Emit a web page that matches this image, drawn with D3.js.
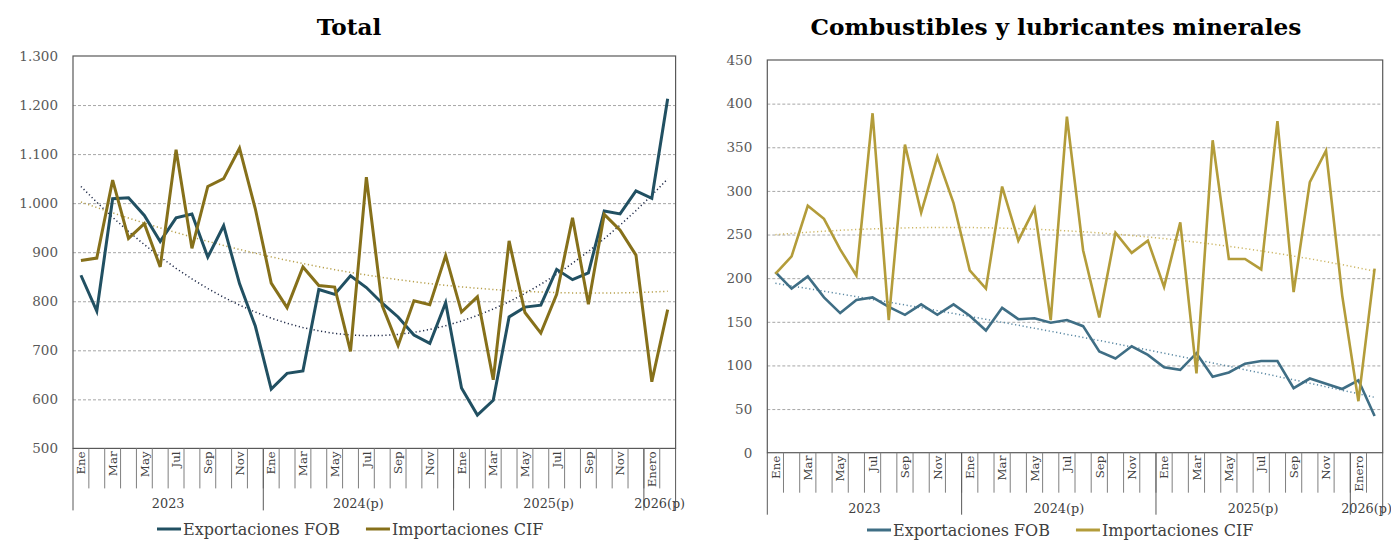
<!DOCTYPE html>
<html>
<head>
<meta charset="utf-8">
<script src="https://cdn.jsdelivr.net/npm/d3@7"></script>
<style>
  body { margin: 0; background: #fff; }
  svg { display: block; font-family: "DejaVu Serif", serif; }
</style>
</head>
<body>
<div id="chart"></div>
<script>
// Categories: monthly, 2023 to Feb 2026
const monthLabels = [
  "Ene","Feb","Mar","Abr","May","Jun","Jul","Ago","Sep","Oct","Nov","Dic",
  "Ene","Feb","Mar","Abr","May","Jun","Jul","Ago","Sep","Oct","Nov","Dic",
  "Ene","Feb","Mar","Abr","May","Jun","Jul","Ago","Sep","Oct","Nov","Dic",
  "Enero","Febrero"
];
const yearLabels = ["2023", "2024(p)", "2025(p)", "2026(p)"];
const yearMonths = [12, 12, 12, 2];

// Total (millones USD)
const totalExport = [
  853, 780, 1009, 1011, 975, 922, 970, 978, 890, 954, 836, 749,
  621, 653, 658, 824, 814, 852, 828, 796, 768, 731, 714, 797,
  623, 568, 598, 768, 788, 792, 865, 844, 858, 984, 978, 1025,
  1010, 1213
];
const totalImport = [
  883, 888, 1047, 928, 958, 870, 1109, 908, 1034, 1050, 1112, 988,
  837, 787, 870, 832, 829, 698, 1053, 791, 710, 801, 793, 893,
  778, 809, 640, 923, 777, 735, 814, 970, 794, 977, 945, 894,
  636, 783
];

// Combustibles y lubricantes minerales
const combExport = [
  207, 188, 202, 178, 160, 175, 178, 167, 158, 170, 158, 170,
  157, 140, 166, 153, 154, 149, 152, 145, 116, 108, 122, 112,
  98, 95, 114, 87, 92, 102, 105, 105, 74, 85, 79, 73,
  83, 42
];
const combImport = [
  205, 225, 283, 268, 233, 203, 389, 152, 353, 275, 339, 286,
  209, 188, 305, 243, 280, 152, 385, 232, 155, 252, 229, 243,
  190, 264, 91, 358, 222, 222, 210, 380, 184, 310, 346, 180,
  59, 211
];

const totalTicks = [500, 600, 700, 800, 900, 1000, 1100, 1200, 1300];
const combTicks = [0, 50, 100, 150, 200, 250, 300, 350, 400, 450];

const esFormat = d3.formatLocale({ decimal: ",", thousands: ".", grouping: [3], currency: ["", ""] }).format(",");

// least squares polynomial (order 2) like the Excel trendline
function polyTrend(values) {
  const n = values.length;
  const xs = values.map((v, i) => i + 1);
  const s = k => d3.sum(xs, x => Math.pow(x, k));
  const t = k => d3.sum(values, (v, i) => v * Math.pow(xs[i], k));
  const A = [[n, s(1), s(2)], [s(1), s(2), s(3)], [s(2), s(3), s(4)]];
  const b = [t(0), t(1), t(2)];
  // gaussian elimination
  for (let c = 0; c < 3; c++) {
    for (let r = c + 1; r < 3; r++) {
      const f = A[r][c] / A[c][c];
      for (let k = c; k < 3; k++) A[r][k] -= f * A[c][k];
      b[r] -= f * b[c];
    }
  }
  const coef = [0, 0, 0];
  for (let r = 2; r >= 0; r--) {
    let acc = b[r];
    for (let k = r + 1; k < 3; k++) acc -= A[r][k] * coef[k];
    coef[r] = acc / A[r][r];
  }
  return xs.map(x => coef[0] + coef[1] * x + coef[2] * x * x);
}

const width = 1391, height = 540;
const svg = d3.select("#chart").append("svg")
  .attr("width", width)
  .attr("height", height);

function drawPanel(cfg) {
  const g = svg.append("g");
  const { left, right, top, bottom } = cfg.box;

  const x = d3.scaleBand()
    .domain(d3.range(monthLabels.length))
    .range([left, right]);
  const y = d3.scaleLinear()
    .domain(d3.extent(cfg.ticks))
    .range([bottom, top]);

  // title
  g.append("text")
    .attr("x", cfg.titleX)
    .attr("y", 35)
    .attr("text-anchor", "middle")
    .attr("font-size", 23.2)
    .attr("font-weight", "bold")
    .attr("fill", "#000")
    .text(cfg.title);

  // gridlines
  g.append("g")
    .attr("transform", `translate(${left},0)`)
    .call(d3.axisLeft(y).tickValues(cfg.ticks.slice(1, -1)).tickSize(-(right - left)).tickFormat(""))
    .call(a => a.select(".domain").remove())
    .call(a => a.selectAll("line")
      .attr("stroke", "#a6a6a6")
      .attr("stroke-dasharray", "3,2"));

  // y labels
  g.append("g")
    .attr("transform", `translate(${left},0)`)
    .call(d3.axisLeft(y).tickValues(cfg.ticks).tickSize(0).tickPadding(15).tickFormat(cfg.format))
    .call(a => a.select(".domain").remove())
    .call(a => a.selectAll("text")
      .attr("font-family", "DejaVu Serif")
      .attr("font-size", 13.5)
      .attr("fill", "#595959"));

  // plot frame
  g.append("rect")
    .attr("x", left)
    .attr("y", top)
    .attr("width", right - left)
    .attr("height", bottom - top)
    .attr("fill", "none")
    .attr("stroke", "#595959")
    .attr("stroke-width", 1.2);

  // category axis: month separators
  g.selectAll(".month-tick")
    .data(d3.range(1, monthLabels.length))
    .enter()
    .append("line")
    .attr("class", "month-tick")
    .attr("x1", d => x(d))
    .attr("x2", d => x(d))
    .attr("y1", bottom)
    .attr("y2", bottom + 40)
    .attr("stroke", "#7f7f7f")
    .attr("stroke-width", 1);

  // month labels (every other one shown)
  g.selectAll(".month-label")
    .data(monthLabels.map((m, i) => ({ m, i })).filter(d => d.i % 2 === 0))
    .enter()
    .append("text")
    .attr("class", "month-label")
    .attr("transform", d => `translate(${x(d.i) + x.bandwidth() / 2},${bottom + 3}) rotate(-90)`)
    .attr("dy", "0.36em")
    .attr("text-anchor", "end")
    .attr("font-size", 11.8)
    .attr("fill", "#404040")
    .text(d => d.m);

  // year groups
  const starts = yearMonths.map((n, i) => d3.sum(yearMonths.slice(0, i)));
  const bounds = starts.map(s => x(s)).concat([right]);
  g.selectAll(".year-line")
    .data(bounds)
    .enter()
    .append("line")
    .attr("class", "year-line")
    .attr("x1", d => d)
    .attr("x2", d => d)
    .attr("y1", bottom)
    .attr("y2", bottom + 62)
    .attr("stroke", "#595959")
    .attr("stroke-width", 1);

  g.selectAll(".year-label")
    .data(yearLabels)
    .enter()
    .append("text")
    .attr("class", "year-label")
    .attr("x", (d, i) => (bounds[i] + bounds[i + 1]) / 2)
    .attr("y", bottom + 60)
    .attr("text-anchor", "middle")
    .attr("font-size", 12.8)
    .attr("fill", "#404040")
    .text(d => d);

  const line = d3.line()
    .x((d, i) => x(i) + x.bandwidth() / 2)
    .y(d => y(d));

  // trendlines
  cfg.series.forEach(s => {
    g.append("path")
      .datum(polyTrend(s.values))
      .attr("d", line)
      .attr("fill", "none")
      .attr("stroke", s.trendColor)
      .attr("stroke-width", 1.5)
      .attr("stroke-dasharray", "1.2,2.6");
  });

  // data lines
  cfg.series.forEach(s => {
    g.append("path")
      .datum(s.values)
      .attr("d", line)
      .attr("fill", "none")
      .attr("stroke", s.color)
      .attr("stroke-width", cfg.lineWidth)
      .attr("stroke-linejoin", "miter");
  });

  // legend
  const legend = g.append("g")
    .attr("transform", `translate(${cfg.legendX},${cfg.legendY})`);
  let lx = 0;
  cfg.series.forEach(s => {
    legend.append("line")
      .attr("x1", lx).attr("x2", lx + 24)
      .attr("y1", 0).attr("y2", 0)
      .attr("stroke", s.color)
      .attr("stroke-width", 3);
    const t = legend.append("text")
      .attr("x", lx + 26)
      .attr("y", 0)
      .attr("dy", "0.35em")
      .attr("font-size", 16)
      .attr("fill", "#404040")
      .text(s.name);
    lx += 26 + t.node().getComputedTextLength() + 26;
  });
}

drawPanel({
  title: "Total",
  titleX: 349,
  box: { left: 73, right: 675.6, top: 56, bottom: 448.4 },
  ticks: totalTicks,
  format: esFormat,
  lineWidth: 3,
  legendX: 157,
  legendY: 529,
  series: [
    { name: "Exportaciones FOB", values: totalExport, color: "#215062", trendColor: "#1f2a48" },
    { name: "Importaciones CIF", values: totalImport, color: "#86701a", trendColor: "#b7a04c" }
  ]
});

drawPanel({
  title: "Combustibles y lubricantes minerales",
  titleX: 1056,
  box: { left: 767.3, right: 1382.7, top: 60, bottom: 452.7 },
  ticks: combTicks,
  format: d3.format("d"),
  lineWidth: 2.6,
  legendX: 867,
  legendY: 530,
  series: [
    { name: "Exportaciones FOB", values: combExport, color: "#3f6e85", trendColor: "#5a88a3" },
    { name: "Importaciones CIF", values: combImport, color: "#b39c3a", trendColor: "#cdb766" }
  ]
});
</script>
</body>
</html>
